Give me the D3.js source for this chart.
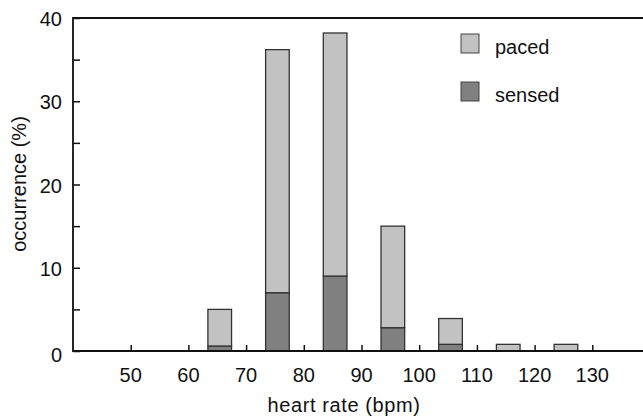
<!DOCTYPE html>
<html lang="en">
    <head>
        <meta charset="utf-8">
        <title>heart rate histogram</title>
        <script type="text/javascript" src="https://d3js.org/d3.v7.min.js"></script>
        <style>
            body { margin: 0; background: #fff; }
            text { font-family: "Liberation Sans", Arial, sans-serif; fill: #111; }
        </style>
    </head>
    <body>
        <script type="text/javascript">

        // data (bin centre in bpm, occurrence in %)
        const bins = [65, 75, 85, 95, 105, 115, 125];
        const sensed = [0.6, 7, 9, 2.8, 0.8, 0, 0];
        const paced = [4.4, 29.2, 29.2, 12.2, 3.1, 0.8, 0.8];
        const xTicks = [50, 60, 70, 80, 90, 100, 110, 120, 130];
        const yTicks = [0, 10, 20, 30, 40];
        const yMinor = [5, 15, 25, 35];

        const width = 643;
        const height = 418;
        const plotLeft = 73, plotTop = 18, plotBottom = 351;

        const xScale = d3.scaleLinear()
                        .domain([40, 140])
                        .range([plotLeft, plotLeft + 577]);

        const yScale = d3.scaleLinear()
                        .domain([0, 40])
                        .range([plotBottom, plotTop]);

        const svg = d3.select("body")
                    .append("svg")
                    .attr("width", width)
                    .attr("height", height);

        // bars: sensed at the bottom, paced stacked on top
        const barW = xScale(44.1) - xScale(40);
        const barX = d => xScale(d + 0.43) - barW / 2;

        svg.selectAll("rect.sensed")
            .data(bins)
            .enter()
            .append("rect")
            .attr("class", "sensed")
            .attr("x", (d, i) => barX(d))
            .attr("y", (d, i) => yScale(sensed[i]))
            .attr("width", barW)
            .attr("height", (d, i) => plotBottom - yScale(sensed[i]))
            .attr("fill", "#808080")
            .attr("stroke", "#333")
            .attr("stroke-width", 1.3);

        svg.selectAll("rect.paced")
            .data(bins)
            .enter()
            .append("rect")
            .attr("class", "paced")
            .attr("x", (d, i) => barX(d))
            .attr("y", (d, i) => yScale(sensed[i] + paced[i]))
            .attr("width", barW)
            .attr("height", (d, i) => yScale(sensed[i]) - yScale(sensed[i] + paced[i]))
            .attr("fill", "#c2c2c2")
            .attr("stroke", "#333")
            .attr("stroke-width", 1.3);

        // axes, ticks pointing inward
        const bottomAxis = d3.axisTop(xScale)
                             .tickValues(xTicks)
                             .tickSize(6)
                             .tickFormat("");
        svg.append("g")
            .attr("transform", "translate(0," + plotBottom + ")")
            .call(bottomAxis)
            .call(g => g.select(".domain").remove());

        svg.selectAll("text.xlab")
            .data(xTicks)
            .enter()
            .append("text")
            .attr("class", "xlab")
            .attr("x", d => xScale(d))
            .attr("y", 382)
            .attr("text-anchor", "middle")
            .style("font-size", "20px")
            .text(d => d);

        const leftAxis = d3.axisRight(yScale)
                           .tickValues(yTicks.concat(yMinor))
                           .tickSize(7)
                           .tickFormat("");
        svg.append("g")
            .attr("transform", "translate(" + plotLeft + ",0)")
            .call(leftAxis)
            .call(g => g.select(".domain").remove());

        svg.selectAll("text.ylab")
            .data(yTicks)
            .enter()
            .append("text")
            .attr("class", "ylab")
            .attr("x", 62)
            .attr("y", d => yScale(d) + (d === 0 ? 11 : 8))
            .attr("text-anchor", "end")
            .style("font-size", "20px")
            .text(d => d);

        svg.selectAll(".tick line")
            .attr("stroke", "#111")
            .attr("stroke-width", 1.5);

        // frame lines: left, top and bottom
        svg.append("path")
            .attr("d", "M" + width + "," + plotTop + "H" + plotLeft + "V" + plotBottom + "H" + width)
            .attr("fill", "none")
            .attr("stroke", "#111")
            .attr("stroke-width", 1.8);

        // axis titles
        svg.append("text")
            .text("heart rate (bpm)")
            .attr("x", 344)
            .attr("y", 412)
            .attr("text-anchor", "middle")
            .style("font-size", "20px")
            .style("letter-spacing", "0.6px");

        svg.append("text")
            .text("occurrence (%)")
            .attr("transform", "translate(26,184) rotate(-90)")
            .attr("text-anchor", "middle")
            .style("font-size", "20px");

        // legend
        const legend = [["paced", "#c2c2c2", 34], ["sensed", "#808080", 82]];
        legend.forEach(l => {
            svg.append("rect")
                .attr("x", 461)
                .attr("y", l[2])
                .attr("width", 18)
                .attr("height", 19)
                .attr("fill", l[1])
                .attr("stroke", "#444")
                .attr("stroke-width", 1);
            svg.append("text")
                .text(l[0])
                .attr("x", 495)
                .attr("y", l[2] + 19.5)
                .style("font-size", "20px");
        });

        </script>
    </body>
</html>
